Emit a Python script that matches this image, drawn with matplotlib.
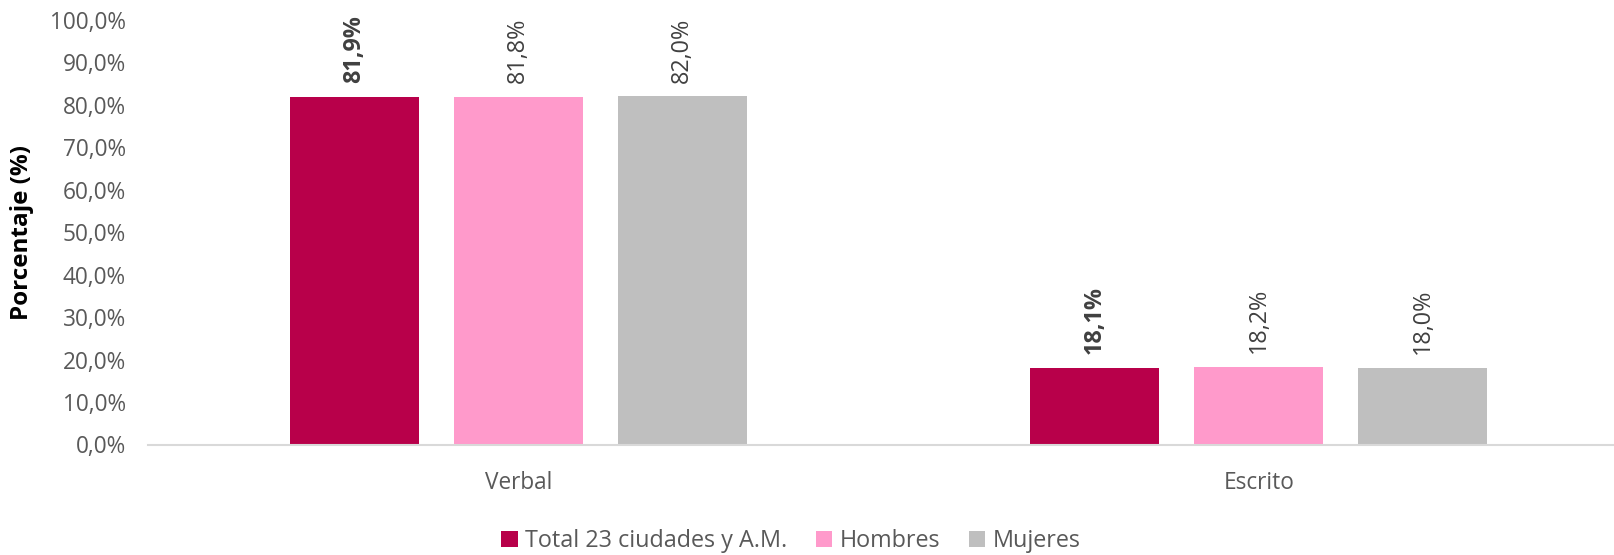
import numpy as np
import matplotlib
matplotlib.use('Agg')
import matplotlib.pyplot as plt

plt.rcParams['font.family'] = ['Open Sans', 'DejaVu Sans']

# data
categorias = ['Verbal', 'Escrito']
series = ['Total 23 ciudades y A.M.', 'Hombres', 'Mujeres']
total = [81.9, 18.1]
hombres = [81.8, 18.2]
mujeres = [82.0, 18.0]
colores = ['#B8004A', '#FF9ACB', '#BFBFBF']

fig = plt.figure(figsize=(16.14, 5.55), dpi=100)
ax = fig.add_axes([148/1614, 110.5/555, 1466/1614, 424.5/555])

x = np.arange(len(categorias))
ancho = 0.1742
paso = 0.2215
for i, (vals, nombre, c) in enumerate(zip([total, hombres, mujeres], series, colores)):
    pos = x + (i - 1)*paso
    ax.bar(pos, vals, ancho, color=c, label=nombre, zorder=2)
    for xp, v in zip(pos, vals):
        ax.annotate(f'{v:.1f}%'.replace('.', ','), (xp, v),
                    textcoords='offset points', xytext=(0, 10),
                    rotation=90, ha='center', va='bottom',
                    fontsize=16.8, color='#404040',
                    fontweight='bold' if i == 0 else 'normal')

ax.set_xlim(-0.5, (1614 - 518.5)/740.5)
ax.set_ylim(0, 100)
ax.set_yticks(np.arange(0, 101, 10))
ax.set_yticklabels([f'{t:.1f}%'.replace('.', ',') for t in np.arange(0, 101, 10)])
ax.set_xticks(x)
ax.set_xticklabels(categorias)
ax.tick_params(axis='both', length=0, labelsize=16.3, labelcolor='#595959')
ax.tick_params(axis='x', pad=19)
ax.tick_params(axis='y', pad=16)
for s in ['top', 'right', 'left']:
    ax.spines[s].set_visible(False)
ax.spines['bottom'].set_color('#D9D9D9')
ax.spines['bottom'].set_linewidth(1.5)
ax.set_ylabel('Porcentaje (%)', fontsize=17.5, fontweight='bold', color='black', labelpad=11)

fig.legend(loc='lower center', bbox_to_anchor=(0.49, -0.035), ncol=3, frameon=False,
           fontsize=16.8, labelcolor='#595959', handlelength=0.7, handleheight=0.7,
           handletextpad=0.3, columnspacing=1.25)

plt.savefig('out.png', dpi=100)
